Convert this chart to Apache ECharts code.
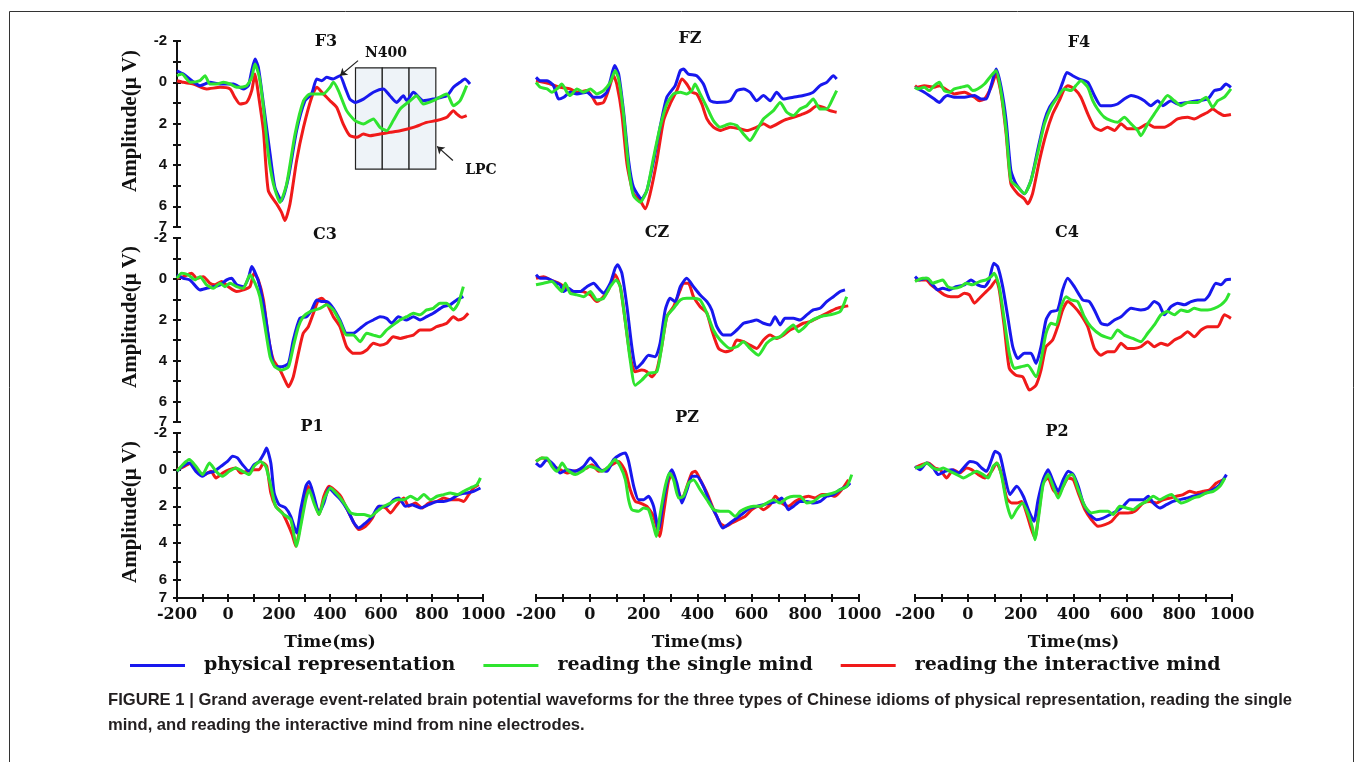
<!DOCTYPE html>
<html>
<head>
<meta charset="utf-8">
<title>Grand average ERP waveforms</title>
<script src="https://cdn.jsdelivr.net/npm/echarts/dist/echarts.min.js"></script>
<style>
  html, body { margin: 0; padding: 0; background: #fff; }
  #chart { width: 1357px; height: 762px; }
</style>
</head>
<body>
<div id="chart"></div>
<script>
  // electrodes, left to right and top to bottom
  const electrodes = ['F3', 'FZ', 'F4', 'C3', 'CZ', 'C4', 'P1', 'PZ', 'P2']
  const conditions = ['physical representation', 'reading the single mind', 'reading the interactive mind']
  const yLabelsShown = [-2, 0, 2, 4, 6, 7]
  const xLabelStep = 200

  // amplitude (uV) against time (ms)
  const f3Phys = [[-200,-0.56],[-175,-0.40],[-110,0.16],[-71,0],[-31,0.08],[21,0.08],[60,0.32],[80,0.16],[93,-0.56],[106,-1.13],[119,-0.73],[139,1.05],[165,3.47],[184,5.08],[210,5.73],[237,4.6],[269,2.34],[302,0.89],[328,0.56],[348,-0.16],[367,-0.08],[387,-0.24],[413,-0.16],[439,-0.32],[459,0.24],[478,0.81],[498,0.97],[531,0.81],[570,0.48],[609,0.32],[635,0.65],[661,0.97],[688,0.65],[701,0.89],[727,0.48],[766,0.89],[805,0.81],[858,0.65],[884,0.24],[910,0],[929,-0.16],[949,0.08]]
  const f3Single = [[-200,-0.32],[-181,-0.40],[-148,0],[-110,-0.08],[-90,-0.32],[-71,0.08],[-44,0.08],[-18,0],[8,0.08],[34,0.24],[73,0.16],[93,-0.24],[106,-0.89],[123,-0.24],[139,1.21],[158,3.47],[178,4.92],[204,5.81],[230,4.92],[263,2.5],[296,0.89],[322,0.56],[374,0.56],[400,0.24],[413,0],[433,0.4],[465,1.37],[498,1.85],[531,2.02],[570,1.77],[596,2.18],[622,2.34],[648,1.85],[675,1.29],[714,0.89],[740,0.65],[766,1.05],[805,0.89],[858,0.56],[884,1.13],[910,0.89],[936,0.16]]
  const f3Inter = [[-200,-0.08],[-175,0],[-136,0.08],[-84,0.32],[-31,0.24],[8,0.32],[27,0.73],[47,1.05],[73,0.97],[93,0.40],[106,-0.40],[119,0.56],[139,2.34],[158,5.24],[191,5.89],[210,6.29],[223,6.69],[243,5.89],[269,3.79],[296,2.18],[328,0.73],[348,0.24],[374,0.56],[400,0.89],[426,1.21],[452,2.02],[478,2.58],[505,2.66],[531,2.5],[557,2.58],[596,2.5],[635,2.42],[675,2.34],[727,2.18],[779,1.94],[818,1.85],[858,1.69],[884,1.37],[897,1.53],[916,1.69],[936,1.61]]

  const fzPhys = [[-200,-0.24],[-184,-0.08],[-159,-0.08],[-135,0.16],[-116,0.81],[-97,0.72],[-73,0.48],[-48,0.56],[-11,0.48],[14,0.72],[39,0.72],[63,0.48],[76,-0.08],[92,-0.81],[107,-0.40],[125,1.37],[144,3.79],[162,5.07],[193,5.64],[212,5.23],[237,3.79],[261,2.17],[286,0.72],[317,0.16],[336,-0.56],[348,-0.64],[366,-0.40],[397,-0.32],[422,0.08],[447,0.89],[472,0.97],[521,0.89],[546,0.40],[571,0.32],[595,0.48],[620,0.89],[645,0.64],[670,0.89],[694,0.48],[719,0.81],[756,0.72],[793,0.64],[830,0.48],[855,0.16],[880,0],[905,-0.32],[917,-0.16]]
  const fzSingle = [[-200,0],[-184,0.24],[-159,0.32],[-141,0.48],[-122,0.32],[-104,0.08],[-85,0.48],[-73,0.64],[-48,0.32],[-23,0.48],[2,0.32],[26,0.56],[51,0.40],[76,0],[94,-0.56],[107,-0.16],[125,1.53],[144,4.11],[162,5.48],[187,5.80],[212,5.23],[237,3.62],[261,2.17],[286,1.05],[311,0.56],[336,0.48],[360,0.56],[379,0.40],[391,0.08],[410,0.56],[435,1.21],[459,1.85],[484,2.17],[521,2.01],[546,2.09],[571,2.50],[595,2.82],[620,2.33],[645,1.77],[682,1.37],[707,0.97],[732,1.45],[756,1.61],[781,1.29],[806,1.13],[830,0.81],[855,1.29],[880,1.29],[905,0.72],[917,0.40]]
  const fzInter = [[-200,-0.08],[-172,0],[-147,0.08],[-110,0.24],[-73,0.32],[-48,0.48],[-11,0.40],[14,0.81],[26,1.05],[51,0.97],[69,0.40],[88,-0.32],[100,0.08],[119,1.53],[138,3.95],[162,5.39],[187,5.72],[206,6.12],[224,5.39],[249,3.79],[274,1.85],[298,1.05],[323,0.40],[342,-0.16],[360,0.08],[379,0.48],[397,0.56],[416,1.05],[435,1.77],[459,2.17],[484,2.33],[521,2.17],[558,2.25],[583,2.33],[620,2.17],[645,2.01],[670,2.17],[719,1.85],[756,1.69],[793,1.53],[818,1.37],[843,1.13],[868,1.21],[892,1.37],[917,1.45]]

  const f4Phys = [[-200,0.24],[-165,0.48],[-127,0.81],[-108,0.97],[-89,0.72],[-76,0.64],[-51,0.72],[-13,0.72],[25,0.64],[50,0.81],[69,0.81],[88,0.16],[107,-0.64],[126,0.24],[145,1.85],[163,4.27],[182,4.91],[214,5.39],[239,4.75],[264,3.30],[290,1.85],[309,1.21],[340,0.64],[359,0],[375,-0.48],[397,-0.32],[422,-0.16],[454,0],[479,0.64],[504,1.13],[542,1.13],[567,1.05],[592,0.81],[618,0.64],[643,0.72],[668,0.89],[693,1.13],[719,0.89],[738,1.13],[769,0.89],[794,1.05],[832,0.97],[870,0.89],[908,0.81],[933,0.40],[958,0.32],[977,0.08],[996,0.24]]
  const f4Single = [[-200,0.24],[-190,0.32],[-165,0.24],[-146,0.40],[-127,0.16],[-108,0],[-89,0.40],[-70,0.48],[-51,0.32],[-26,0.24],[0,0.16],[18,0.40],[37,0.32],[63,0.08],[88,-0.32],[107,-0.56],[126,0.48],[145,2.33],[163,4.75],[189,5.07],[214,5.39],[239,4.75],[264,3.46],[290,2.01],[315,1.21],[340,0.72],[365,0.32],[391,0.40],[409,0.16],[428,-0.08],[454,0.24],[473,0.89],[491,1.29],[517,1.69],[542,1.85],[567,1.93],[592,1.69],[618,2.01],[643,2.33],[655,2.58],[681,2.01],[706,1.53],[731,1.05],[756,0.64],[782,0.89],[807,1.13],[832,0.97],[870,0.97],[902,0.72],[927,1.21],[946,0.89],[971,0.72],[996,0.32]]
  const f4Inter = [[-200,0.16],[-190,0.24],[-165,0.16],[-127,0.24],[-108,0.16],[-76,0.40],[-51,0.56],[-13,0.48],[25,0.72],[44,0.89],[63,0.81],[88,0.24],[107,-0.40],[126,0.56],[145,2.50],[163,4.91],[189,5.39],[214,5.64],[227,5.88],[245,5.39],[271,3.79],[296,2.50],[321,1.53],[346,0.89],[365,0.32],[378,0.16],[403,0.32],[428,0.72],[454,1.53],[479,2.17],[504,2.33],[529,2.17],[555,2.33],[580,2.01],[605,2.25],[643,2.25],[681,2.01],[706,2.17],[744,2.17],[769,2.01],[794,1.77],[832,1.69],[857,1.77],[883,1.61],[908,1.45],[927,1.29],[946,1.45],[971,1.61],[996,1.56]]

  const c3Phys = [[-200,-0.20],[-175,-0.03],[-149,0.05],[-110,0.54],[-84,0.46],[-57,0.38],[-31,0.29],[-5,0.05],[14,-0.03],[34,0.29],[60,0.38],[80,-0.03],[93,-0.60],[110,-0.20],[125,0.38],[145,1.68],[165,3.32],[184,4.30],[210,4.30],[237,4.13],[256,2.99],[282,1.93],[308,1.85],[328,1.52],[348,1.03],[367,1.11],[387,1.11],[413,1.44],[439,2.01],[465,2.66],[491,2.66],[518,2.42],[544,2.17],[570,2.01],[596,1.85],[622,1.93],[642,2.17],[668,1.85],[701,2.01],[727,1.85],[753,2.01],[779,1.85],[805,1.68],[844,1.36],[871,1.27],[897,1.03],[923,0.87]]
  const c3Single = [[-200,-0.03],[-182,-0.28],[-156,-0.20],[-129,0.05],[-110,-0.11],[-84,0.29],[-57,0.46],[-31,0.21],[-12,0.38],[8,0.21],[34,0.38],[60,0.46],[86,-0.20],[106,0.21],[125,0.87],[145,2.34],[165,3.81],[184,4.30],[210,4.46],[237,4.30],[256,3.32],[276,2.34],[295,1.85],[322,1.60],[361,1.44],[387,1.27],[413,1.52],[439,2.09],[465,2.75],[491,2.75],[518,3.07],[544,2.66],[570,2.75],[596,2.83],[622,2.50],[648,2.25],[675,2.01],[701,1.85],[727,1.68],[753,1.76],[779,1.52],[805,1.44],[831,1.19],[857,1.19],[884,1.52],[903,1.19],[923,0.38]]
  const c3Inter = [[-200,-0.03],[-175,-0.11],[-143,-0.28],[-123,-0.03],[-97,-0.11],[-71,0.21],[-51,0.29],[-25,0.13],[1,0.38],[34,0.62],[60,0.54],[86,0.38],[102,-0.28],[119,0.05],[139,1.03],[158,2.83],[178,3.97],[204,4.46],[223,4.95],[237,5.28],[256,4.79],[276,3.64],[295,2.66],[315,2.34],[335,1.68],[354,1.03],[367,0.95],[387,1.19],[413,1.85],[439,2.34],[465,3.32],[491,3.64],[518,3.64],[544,3.48],[570,3.15],[596,3.24],[622,3.15],[648,2.83],[675,2.91],[701,2.83],[727,2.75],[753,2.50],[792,2.50],[818,2.34],[858,2.17],[884,1.85],[903,2.01],[923,1.93],[942,1.68]]

  const czPhys = [[-200,-0.20],[-184,-0.03],[-159,-0.03],[-135,0.13],[-110,0.29],[-97,0.62],[-79,0.46],[-60,0.62],[-36,0.62],[-11,0.38],[14,0.21],[32,0.46],[51,0.70],[76,0.21],[94,-0.52],[103,-0.69],[119,-0.28],[138,1.36],[156,3.32],[172,4.38],[193,4.13],[218,3.73],[243,3.81],[261,3.15],[280,1.52],[298,0.95],[317,1.11],[336,0.38],[360,-0.03],[385,0.38],[410,0.79],[435,1.11],[453,1.52],[472,2.34],[496,2.75],[521,2.75],[546,2.50],[571,2.17],[595,2.09],[620,2.01],[645,2.17],[670,2.25],[688,1.85],[707,2.25],[725,1.93],[756,1.93],[781,2.01],[806,1.76],[830,1.52],[855,1.44],[880,1.11],[905,0.87],[930,0.62],[948,0.54]]
  const czSingle = [[-200,0.29],[-172,0.21],[-141,0.13],[-122,0.38],[-104,0.62],[-91,0.21],[-73,0.70],[-48,0.78],[-23,0.87],[2,0.62],[26,1.03],[51,0.95],[76,0.38],[98,0.05],[113,0.38],[131,2.01],[150,3.97],[168,5.20],[193,4.95],[218,4.62],[249,4.54],[267,3.32],[286,1.85],[311,1.44],[336,1.03],[360,0.95],[385,0.95],[410,1.03],[435,1.68],[459,2.50],[484,2.99],[521,3.40],[546,3.32],[571,3.07],[595,3.40],[626,3.73],[657,3.15],[682,2.91],[707,2.83],[732,2.50],[756,2.25],[775,2.58],[793,2.42],[818,2.09],[855,1.85],[892,1.76],[930,1.60],[954,0.87]]
  const czInter = [[-200,-0.03],[-172,-0.11],[-147,0.05],[-116,0.21],[-85,0.46],[-60,0.62],[-29,0.62],[2,0.78],[26,1.11],[45,0.95],[69,0.54],[94,-0.20],[113,0.38],[131,2.01],[150,3.81],[168,4.54],[193,4.46],[212,4.54],[230,4.79],[249,4.46],[267,3.32],[286,1.85],[311,1.36],[336,0.54],[348,0.21],[366,0.21],[385,0.87],[410,1.36],[435,1.68],[453,2.50],[478,3.40],[503,3.56],[527,3.48],[546,2.99],[571,3.07],[595,3.24],[620,3.40],[645,2.99],[670,2.75],[694,2.91],[719,2.75],[744,2.50],[769,2.34],[793,2.17],[818,2.09],[843,1.93],[868,1.76],[892,1.60],[917,1.44],[942,1.36],[960,1.32]]

  const c4Phys = [[-200,-0.11],[-184,0.05],[-158,-0.03],[-133,0.29],[-114,0.54],[-95,0.46],[-70,0.54],[-45,0.38],[-13,0.29],[12,0.05],[37,0.29],[63,0.38],[81,0.05],[98,-0.77],[113,-0.60],[132,0.38],[151,1.85],[170,3.32],[189,3.89],[214,3.64],[239,3.64],[258,4.13],[277,3.32],[296,2.01],[315,1.60],[340,1.52],[359,0.54],[378,-0.03],[403,0.38],[435,1.03],[460,1.11],[479,1.52],[504,2.17],[529,2.25],[555,2.01],[580,1.85],[618,1.44],[655,1.52],[681,1.44],[706,1.11],[725,1.27],[744,1.76],[769,1.36],[794,1.19],[820,1.27],[845,1.11],[870,1.03],[895,1.03],[914,0.78],[939,0.21],[958,0.29],[977,0.05],[996,0.02]]
  const c4Single = [[-200,0.13],[-171,-0.03],[-152,-0.03],[-133,0.21],[-114,0.13],[-95,0.05],[-76,0.38],[-51,0.46],[-26,0.38],[-7,0.21],[18,0.29],[44,0.13],[69,0.05],[88,-0.11],[100,-0.28],[119,0.38],[138,2.01],[157,3.64],[176,4.38],[201,4.30],[227,4.22],[258,4.79],[277,3.97],[296,2.66],[315,2.17],[334,2.25],[353,1.36],[372,0.87],[391,1.03],[416,1.11],[441,1.85],[466,2.34],[504,2.75],[542,2.91],[567,2.50],[592,2.75],[624,2.91],[655,3.07],[681,2.66],[706,2.25],[731,1.76],[756,1.60],[782,1.76],[807,1.52],[832,1.60],[857,1.44],[883,1.52],[908,1.52],[933,1.44],[958,1.27],[977,1.03],[990,0.70]]
  const c4Inter = [[-200,0.05],[-158,0.05],[-139,0.29],[-114,0.54],[-89,0.78],[-64,0.87],[-38,0.87],[-13,0.70],[6,0.78],[25,1.19],[44,0.95],[63,0.70],[88,0.38],[107,0.05],[119,0.54],[138,2.34],[157,4.38],[182,4.71],[208,4.79],[220,5.12],[233,5.44],[258,5.20],[277,4.46],[296,3.32],[321,2.99],[340,2.34],[359,1.52],[378,1.11],[403,1.36],[428,1.76],[454,2.34],[479,3.40],[504,3.73],[529,3.56],[555,3.56],[580,3.15],[605,3.40],[630,3.40],[655,3.32],[681,3.07],[706,3.32],[731,3.15],[756,3.24],[782,2.99],[807,2.83],[832,2.58],[857,2.83],[883,2.50],[908,2.34],[946,2.34],[971,1.76],[996,1.93]]

  const p1Phys = [[-200,0.09],[-178,-0.18],[-152,-0.36],[-126,0.09],[-100,0.36],[-80,0.18],[-54,0.09],[-28,-0.18],[-2,-0.45],[18,-0.73],[37,-0.64],[57,-0.27],[83,0.09],[102,-0.27],[122,-0.45],[142,-0.91],[151,-1.18],[168,-0.36],[181,1.27],[200,1.91],[226,2.09],[246,2.55],[269,3.45],[285,2.18],[305,0.91],[318,0.64],[337,1.45],[357,2.36],[376,1.82],[396,1.00],[416,1.27],[442,1.64],[468,2.18],[494,2.91],[513,3.18],[539,2.91],[566,2.55],[592,2.00],[624,2.00],[650,1.64],[670,1.55],[696,2.00],[722,1.91],[755,2.09],[787,1.91],[820,1.73],[846,1.73],[872,1.64],[905,1.36],[937,1.27],[963,1.18],[990,1.00]]
  const p1Single = [[-200,0.09],[-178,-0.27],[-152,-0.55],[-126,-0.18],[-100,0.27],[-73,-0.36],[-47,0.09],[-21,0.36],[5,0.09],[31,-0.09],[57,0.09],[83,0.27],[102,-0.18],[126,-0.45],[148,-0.18],[168,0.91],[187,2.00],[220,2.45],[246,2.73],[269,4.18],[285,3.09],[305,1.64],[318,1.09],[337,1.82],[357,2.45],[376,1.64],[402,1.00],[429,1.36],[455,1.82],[481,2.36],[507,2.45],[533,2.45],[559,2.55],[585,2.27],[611,2.00],[637,1.82],[663,1.64],[689,1.64],[716,1.45],[742,1.64],[768,1.36],[794,1.64],[820,1.45],[846,1.36],[872,1.27],[898,1.36],[924,1.18],[950,1.00],[976,0.82],[990,0.45]]
  const p1Inter = [[-200,0],[-171,-0.18],[-145,-0.36],[-119,0.09],[-93,0.27],[-67,0.09],[-47,0.45],[-21,0.18],[5,0],[31,-0.09],[50,0.18],[76,0.09],[102,0],[122,0],[139,-0.36],[152,-0.18],[168,1.27],[187,2.00],[213,2.36],[233,2.91],[252,3.55],[266,4.18],[285,2.91],[305,1.27],[314,0.91],[337,1.64],[357,2.45],[376,1.45],[396,0.91],[416,1.09],[442,1.45],[468,2.18],[494,2.91],[513,3.27],[539,3.09],[566,2.64],[592,2.00],[618,2.09],[637,2.36],[663,1.91],[689,1.55],[709,2.00],[735,1.82],[761,2.09],[787,1.82],[820,1.73],[846,1.55],[872,1.64],[905,1.64],[924,1.73],[944,1.36],[963,1.00],[983,0.82]]

  const pzPhys = [[-200,-0.36],[-184,-0.18],[-159,-0.55],[-134,-0.27],[-110,0.18],[-85,0],[-54,0.09],[-23,-0.18],[2,-0.64],[20,-0.36],[39,0],[64,0.09],[88,-0.55],[113,-0.82],[132,-0.91],[144,-0.45],[163,0.91],[181,1.64],[200,1.64],[218,1.45],[237,2.00],[255,3.27],[274,1.64],[292,0.36],[305,0],[323,0.73],[342,1.82],[361,1.09],[379,0.36],[398,0.36],[422,0.91],[447,1.82],[472,2.55],[494,3.18],[521,2.91],[546,2.64],[571,2.36],[596,2.09],[620,2.00],[645,1.91],[670,1.82],[695,1.73],[713,1.55],[738,2.18],[757,2.00],[781,1.73],[806,1.73],[831,1.82],[856,1.73],[880,1.45],[905,1.36],[930,1.09],[955,0.91],[967,0.73]]
  const pzSingle = [[-200,-0.45],[-178,-0.64],[-159,-0.64],[-141,-0.18],[-122,0.09],[-103,-0.36],[-85,0],[-54,0.27],[-29,0.09],[-4,-0.18],[20,-0.09],[45,0.09],[70,-0.18],[94,-0.55],[113,-0.18],[132,0.55],[144,1.64],[156,2.18],[181,2.27],[200,2.09],[218,2.18],[237,3.09],[247,3.64],[262,2.36],[280,0.91],[296,0.18],[311,0.55],[330,1.55],[348,1.45],[367,0.73],[385,0.55],[410,1.09],[435,1.64],[460,2.18],[484,2.27],[515,2.27],[540,2.55],[559,2.27],[583,2.09],[608,2.00],[633,2.00],[658,1.82],[682,1.64],[707,1.82],[732,1.55],[757,1.45],[781,1.45],[806,1.82],[831,1.73],[856,1.45],[880,1.36],[905,1.27],[930,1.09],[955,0.91],[973,0.27]]
  const pzInter = [[-200,-0.45],[-178,-0.64],[-159,-0.55],[-134,-0.18],[-110,0],[-85,0.18],[-60,0.09],[-35,0],[-11,-0.09],[8,-0.27],[33,0.09],[57,0],[82,-0.27],[107,-0.45],[132,0.09],[150,1.09],[169,1.73],[187,1.82],[212,2.00],[237,2.55],[259,3.64],[274,2.36],[292,0.64],[305,0.27],[323,0.91],[342,1.64],[361,0.91],[379,0.18],[392,0.09],[410,0.55],[435,1.27],[460,2.18],[484,2.91],[503,3.09],[528,2.91],[552,2.73],[577,2.55],[602,2.18],[627,2.00],[645,2.18],[670,1.91],[689,1.45],[713,1.82],[738,2.00],[763,1.73],[788,1.55],[812,1.45],[837,1.55],[862,1.36],[887,1.36],[911,1.45],[936,1.09],[961,0.55]]

  const p2Phys = [[-200,-0.18],[-181,0],[-156,-0.36],[-131,-0.09],[-112,0.27],[-87,0.09],[-61,0],[-36,0.18],[-11,-0.18],[8,-0.45],[33,-0.36],[52,-0.09],[71,0.09],[90,-0.55],[103,-1.00],[121,-0.82],[140,0.36],[159,1.36],[185,0.91],[210,1.45],[229,2.18],[250,2.82],[266,1.64],[285,0.55],[304,0],[323,0.64],[342,1.18],[361,0.55],[380,0.09],[399,0.27],[418,0.91],[437,1.82],[462,2.45],[487,2.73],[512,2.64],[538,2.45],[563,2.27],[588,2.00],[613,1.64],[638,1.64],[664,1.64],[683,1.45],[702,1.82],[727,2.09],[752,1.91],[777,1.73],[802,1.64],[828,1.55],[853,1.45],[878,1.36],[903,1.27],[929,1.09],[954,0.82],[979,0.27]]
  const p2Single = [[-200,-0.09],[-175,-0.18],[-156,-0.36],[-131,-0.09],[-112,0],[-93,-0.09],[-68,0.09],[-42,0.27],[-17,0.45],[8,0.27],[33,0.09],[58,0.27],[77,0.45],[96,-0.18],[111,-0.36],[128,0.36],[147,1.82],[166,2.64],[185,2.18],[207,1.82],[229,2.45],[245,3.18],[254,3.82],[270,2.36],[285,0.82],[304,0.27],[323,0.91],[342,1.55],[361,0.91],[380,0.36],[396,0.27],[418,1.09],[443,2.00],[468,2.36],[500,2.27],[531,2.27],[550,2.45],[575,2.00],[601,2.09],[626,2.18],[651,1.91],[676,1.73],[702,1.45],[727,1.64],[752,1.45],[771,1.36],[790,1.64],[809,1.82],[828,1.73],[853,1.55],[878,1.45],[903,1.27],[929,1.18],[954,0.91],[973,0.45]]
  const p2Inter = [[-200,-0.09],[-175,-0.27],[-150,-0.36],[-124,-0.09],[-105,0],[-80,0.45],[-55,0],[-30,0.18],[-5,-0.09],[14,0],[40,0.27],[65,0.45],[90,0.09],[109,-0.36],[128,0.27],[147,1.55],[166,1.82],[185,1.82],[204,1.73],[222,2.36],[241,3.27],[254,3.73],[270,2.18],[285,0.73],[304,0.45],[323,1.09],[342,1.36],[361,0.91],[380,0.45],[399,0.55],[418,1.27],[443,2.18],[468,2.73],[493,3.09],[519,3.00],[544,2.82],[575,2.36],[607,2.36],[632,2.27],[664,1.82],[689,1.73],[714,1.82],[739,1.64],[765,1.55],[790,1.45],[815,1.36],[840,1.18],[865,1.27],[891,1.18],[916,1.09],[941,0.73],[966,0.55]]

  // N400 / LPC analysis windows drawn on F3 (ms, uV)
  const windowEdges = [500, 605, 710, 815]
  const windowAmp = [-0.7, 4.2]

  const panelData = [
    [f3Phys, f3Single, f3Inter], [fzPhys, fzSingle, fzInter], [f4Phys, f4Single, f4Inter],
    [c3Phys, c3Single, c3Inter], [czPhys, czSingle, czInter], [c4Phys, c4Single, c4Inter],
    [p1Phys, p1Single, p1Inter], [pzPhys, pzSingle, pzInter], [p2Phys, p2Single, p2Inter]
  ]

  const colors = ['#1818ee', '#2fe42f', '#f01a1a']
  const drawOrder = [2, 0, 1] // red under, green on top

  // layout of the 3x3 panels, px
  const colLeft = [177, 536, 915]
  const colWidth = [306, 323, 317]
  const rowTop = [41, 238, 433]
  const rowHeight = [186, 184, 165]
  const titlePos = [[326, 42], [690, 39], [1079, 43], [325, 235], [657, 233], [1067, 233], [312, 427], [687, 418], [1057, 432]]
  const ampNameY = [121, 317, 512]

  const axisColor = '#111'
  const serifBold = { fontFamily: 'DejaVu Serif', fontWeight: 'bold', color: axisColor }

  const chart = echarts.init(document.getElementById('chart'), null, { renderer: 'canvas' })

  const grid = []
  const xAxis = []
  const yAxis = []
  const series = []
  const graphic = []

  electrodes.forEach(function(name, i) {
    const row = Math.floor(i / 3)
    const col = i % 3
    grid.push({ left: colLeft[col], top: rowTop[row], width: colWidth[col], height: rowHeight[row] })

    xAxis.push({
      type: 'value', gridIndex: i, min: -200, max: 1000, interval: 100,
      position: 'bottom',
      show: row === 2,
      axisLine: { onZero: false, lineStyle: { color: axisColor, width: 2 } },
      axisTick: { length: 4, lineStyle: { color: axisColor, width: 2 } },
      axisLabel: Object.assign({ fontSize: 16, margin: 9, formatter: function(v) { return v % xLabelStep === 0 ? String(v) : '' } }, serifBold),
      splitLine: { show: false },
      name: 'Time(ms)', nameLocation: 'middle', nameGap: 36,
      nameTextStyle: Object.assign({ fontSize: 17 }, serifBold)
    })
    yAxis.push({
      type: 'value', gridIndex: i, min: -2, max: 7, interval: 1, inverse: true,
      position: 'left',
      show: col === 0,
      axisLine: { onZero: false, lineStyle: { color: axisColor, width: 2 } },
      axisTick: { length: 4, lineStyle: { color: axisColor, width: 2 } },
      axisLabel: {
        fontFamily: 'Liberation Sans', fontWeight: 'bold', fontSize: 15, color: axisColor, margin: 10,
        formatter: function(v) { return yLabelsShown.indexOf(v) >= 0 ? String(v) : '' }
      },
      splitLine: { show: false }
    })

    drawOrder.forEach(function(k) {
      const s = {
        name: conditions[k], type: 'line', xAxisIndex: i, yAxisIndex: i,
        data: panelData[i][k], showSymbol: false, symbol: 'none', smooth: 0.2,
        lineStyle: { color: colors[k], width: 3 }, itemStyle: { color: colors[k] },
        silent: true
      }
      if (i === 0 && k === 2) {
        s.markArea = {
          silent: true,
          itemStyle: { color: '#eef3f8', borderColor: '#222', borderWidth: 1.2 },
          label: { show: false },
          data: windowEdges.slice(0, -1).map(function(e, j) {
            return [{ xAxis: e, yAxis: windowAmp[0] }, { xAxis: windowEdges[j + 1], yAxis: windowAmp[1] }]
          })
        }
        s.markLine = {
          silent: true, symbol: ['none', 'arrow'], symbolSize: 7,
          lineStyle: { color: '#222', width: 1.2, type: 'solid' },
          label: { show: false },
          data: [
            [{ coord: [510, -1.05] }, { coord: [439, -0.32] }],
            [{ coord: [882, 3.78] }, { coord: [820, 3.1] }]
          ]
        }
      }
      series.push(s)
    })

    graphic.push({
      type: 'text', x: titlePos[i][0], y: titlePos[i][1],
      style: { text: name, font: 'bold 16px "DejaVu Serif"', fill: axisColor, align: 'center', verticalAlign: 'middle', textAlign: 'center', textVerticalAlign: 'middle' }
    })
  })

  // second set of axes: ticks on the inner side, so ticks cross the axis line
  ;[0, 3, 6].forEach(function(i) {
    yAxis.push({
      type: 'value', gridIndex: i, min: -2, max: 7, interval: 1, inverse: true, position: 'left',
      axisLine: { show: false, onZero: false }, axisLabel: { show: false }, splitLine: { show: false },
      axisTick: { inside: true, length: 4, lineStyle: { color: axisColor, width: 2 } }
    })
  })
  ;[6, 7, 8].forEach(function(i) {
    xAxis.push({
      type: 'value', gridIndex: i, min: -200, max: 1000, interval: 100, position: 'bottom',
      axisLine: { show: false, onZero: false }, axisLabel: { show: false }, splitLine: { show: false },
      axisTick: { inside: true, length: 4, lineStyle: { color: axisColor, width: 2 } }
    })
  })

  ampNameY.forEach(function(y) {
    graphic.push({
      type: 'text', x: 131, y: y, rotation: Math.PI / 2,
      style: { text: 'Amplitude(\u03bc V)', font: 'bold 21px "Liberation Serif"', fill: axisColor, align: 'center', verticalAlign: 'middle', textAlign: 'center', textVerticalAlign: 'middle' }
    })
  })

  graphic.push(
    { type: 'text', x: 386, y: 53, style: { text: 'N400', font: 'bold 14px "DejaVu Serif"', fill: axisColor, align: 'center', verticalAlign: 'middle', textAlign: 'center', textVerticalAlign: 'middle' } },
    { type: 'text', x: 481, y: 170, style: { text: 'LPC', font: 'bold 14px "DejaVu Serif"', fill: axisColor, align: 'center', verticalAlign: 'middle', textAlign: 'center', textVerticalAlign: 'middle' } },
    { type: 'text', x: 108, y: 700, style: { text: 'FIGURE 1 | Grand average event-related brain potential waveforms for the three types of Chinese idioms of physical representation, reading the single', font: 'bold 16.6px "Liberation Sans"', fill: '#231f20', verticalAlign: 'middle', textVerticalAlign: 'middle' } },
    { type: 'text', x: 108, y: 725, style: { text: 'mind, and reading the interactive mind from nine electrodes.', font: 'bold 16.6px "Liberation Sans"', fill: '#231f20', verticalAlign: 'middle', textVerticalAlign: 'middle' } },
    { type: 'rect', shape: { x: 9.5, y: 11.5, width: 1344, height: 800 }, style: { fill: 'none', stroke: '#333', lineWidth: 1 }, silent: true }
  )

  chart.setOption({
    animation: false,
    backgroundColor: '#fff',
    legend: {
      data: conditions,
      left: 125, top: 651,
      icon: 'rect', itemWidth: 55, itemHeight: 3, itemGap: 28,
      textStyle: Object.assign({ fontSize: 19, padding: [0, 0, 0, 14] }, serifBold)
    },
    grid: grid,
    xAxis: xAxis,
    yAxis: yAxis,
    series: series,
    graphic: graphic
  })
</script>
</body>
</html>
